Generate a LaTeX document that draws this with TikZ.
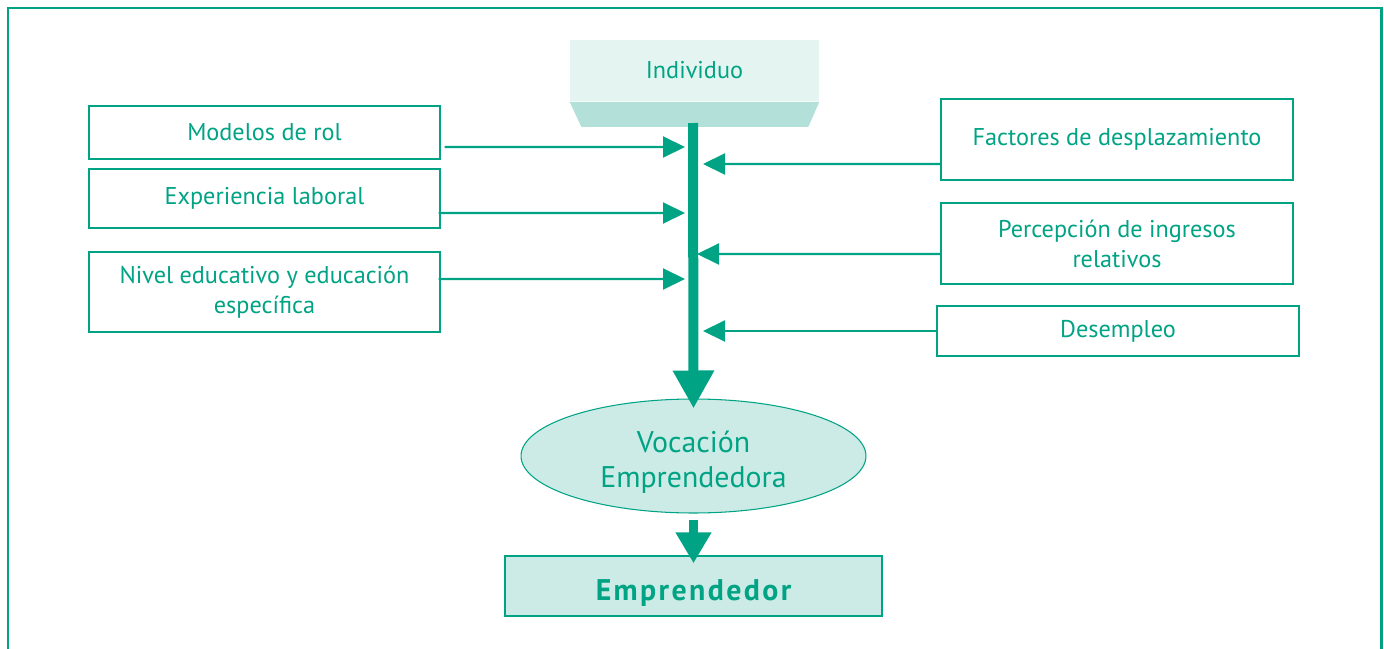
\documentclass[tikz,border=0pt]{standalone}
\usepackage{fontspec}
\setmainfont{PT Sans}
\usetikzlibrary{arrows.meta,shapes.geometric}
\definecolor{verde}{HTML}{00A384}
\definecolor{verdeclaro}{HTML}{CCEBE6}
\definecolor{verdepalido}{HTML}{E4F5F1}
\definecolor{verdemedio}{HTML}{B3E1DA}
\tikzset{
    caja/.style={draw=verde, line width=0.7pt, fill=white, text=verde, align=center, inner sep=0pt,
        font=\fontsize{13.8}{17}\selectfont},
    flecha/.style={verde, line width=1.15pt, -{Triangle[length=0.44cm, width=0.42cm]}},
    grande/.style={verde, line width=0.2cm, -{Triangle[length=0.76cm, width=0.78cm]}}
}

\begin{document}
\begin{tikzpicture}[x=0.02cm, y=-0.02cm]
                        \useasboundingbox (0,0) rectangle (1384,649);
                        \draw[verde, line width=1.7pt] (8,649) -- (8,8) -- (1381,8) -- (1381,649);

                        \node[fill=verdepalido, text=verde, minimum width=4.98cm, minimum height=1.24cm, inner sep=0pt,
                            font=\fontsize{13.8}{17}\selectfont] (I) at (694.5,70.5) {Individuo};
                        \fill[verdemedio] (I.south west) -- (I.south east) -- ++(-11,25) -- ++(-227,0) -- cycle;
                        \coordinate (T) at (693,123);

                        \node[caja, minimum width=7.02cm, minimum height=1.06cm] (M) at (264.5,132.5) {Modelos de rol};
                        \node[caja, minimum width=7.02cm, minimum height=1.18cm] (E) at (264.5,198.5) {Experiencia laboral};
                        \node[caja, minimum width=7.02cm, minimum height=1.6cm] (N) at (264.5,292) {Nivel educativo y educación\\específica};

                        \node[caja, minimum width=7.04cm, minimum height=1.62cm] (F) at (1117,139.5) {Factores de desplazamiento};
                        \node[caja, minimum width=7.04cm, minimum height=1.62cm] (P) at (1117,243.5) {Percepción de ingresos\\relativos};
                        \node[caja, minimum width=7.24cm, minimum height=1cm] (D) at (1118,331) {Desempleo};

                        \node[ellipse, draw=verde, line width=0.6pt, fill=verdeclaro, text=verde, minimum width=6.9cm,
                            minimum height=2.28cm, inner sep=0pt, align=center,
                            font=\fontsize{17}{20}\selectfont] (V) at (693.5,456) {\rule{0pt}{0.67cm}Vocación\\Emprendedora};
                        \node[draw=verde, line width=0.85pt, fill=verdeclaro, text=verde, minimum width=7.54cm,
                            minimum height=1.2cm, inner sep=0pt, text height=0.56cm, text depth=0pt,
                            font=\fontsize{17}{20}\selectfont\bfseries\addfontfeature{LetterSpace=8}] (R) at (693.5,586) {Emprendedor};

                        \coordinate (a1) at (685,147);
                        \coordinate (a2) at (685,213);
                        \coordinate (a3) at (685,279);
                        \coordinate (b1) at (703,164);
                        \coordinate (b2) at (697,254);
                        \coordinate (b3) at (703,331);

                        \draw[flecha] ([xshift=0.08cm, yshift=-0.29cm]M.east) -- (a1);
                        \draw[flecha] ([xshift=-0.04cm, yshift=-0.29cm]E.east) -- (a2);
                        \draw[flecha] ([xshift=-0.04cm, yshift=0.26cm]N.east) -- (a3);

                        \draw[flecha] ([yshift=-0.49cm]F.west) -- (b1);
                        \draw[flecha] ([yshift=-0.21cm]P.west) -- (b2);
                        \draw[flecha] (D.west) -- (b3);

                        \draw[grande, shorten >=-0.2cm] (T) -- (V.north);
                        \draw[verde, line width=0.18cm, -{Triangle[length=0.62cm, width=0.68cm]}, shorten <=0.12cm,
                            shorten >=-0.16cm] (V.south) -- (R.north);
                    \end{tikzpicture}
\end{document}
